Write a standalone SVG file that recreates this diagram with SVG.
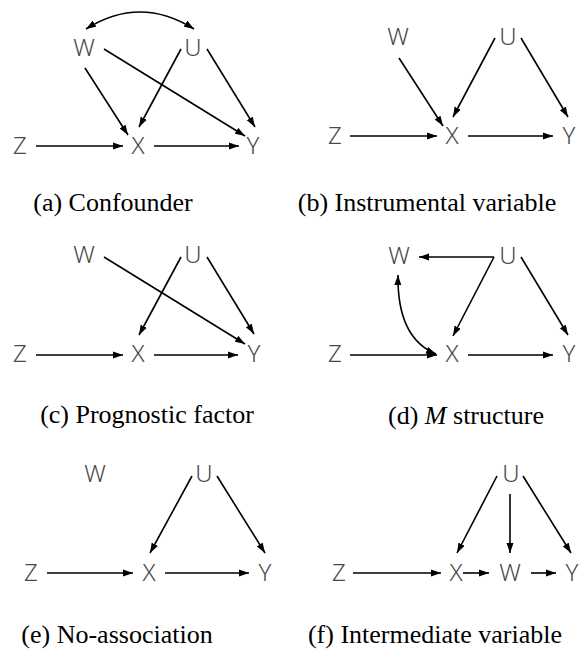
<svg xmlns="http://www.w3.org/2000/svg" width="579" height="652" viewBox="0 0 579 652">
<style>
.n text{font-family:"Noto Sans","Open Sans",sans-serif;font-size:24px;font-weight:300;fill:#4a4a4a;text-anchor:middle}
.cap{font-family:"Liberation Serif",serif;font-size:26px;fill:#000;text-anchor:middle}
.e line,.e path{stroke:#000;stroke-width:1.6;fill:none;marker-end:url(#ah)}
.e .bi{marker-start:url(#ah)}
</style>
<defs>
<marker id="ah" markerUnits="userSpaceOnUse" markerWidth="10" markerHeight="8" refX="10" refY="4" orient="auto-start-reverse">
<path d="M0,0.5 L10,4 L0,7.5 z" fill="#000"/>
</marker>
</defs>
<rect width="579" height="652" fill="#fff"/>

<!-- Panel a -->
<g id="a-W" class="n"><text x="84" y="56">W</text></g>
<g id="a-U" class="n"><text x="193" y="56">U</text></g>
<g id="a-Z" class="n"><text x="20" y="154">Z</text></g>
<g id="a-X" class="n"><text x="138" y="154">X</text></g>
<g id="a-Y" class="n"><text x="253" y="154">Y</text></g>
<g id="a-edges" class="e">
<path class="bi" d="M86,29 Q140,-5 194,29"/>
<line x1="85" y1="68" x2="128" y2="135"/>
<line x1="181" y1="49" x2="139" y2="127"/>
<line x1="104" y1="49" x2="245" y2="136"/>
<line x1="207" y1="49" x2="255" y2="127"/>
<line x1="36" y1="146" x2="123" y2="146"/>
<line x1="154" y1="146" x2="239" y2="146"/>
</g>
<text class="cap" x="113" y="211">(a) Confounder</text>

<!-- Panel b -->
<g id="b-W" class="n"><text x="398" y="45">W</text></g>
<g id="b-U" class="n"><text x="508" y="45">U</text></g>
<g id="b-Z" class="n"><text x="335" y="144">Z</text></g>
<g id="b-X" class="n"><text x="452" y="144">X</text></g>
<g id="b-Y" class="n"><text x="569" y="144">Y</text></g>
<g id="b-edges" class="e">
<line x1="399" y1="58" x2="443" y2="126"/>
<line x1="495" y1="38" x2="453" y2="117"/>
<line x1="521" y1="38" x2="568" y2="117"/>
<line x1="350" y1="136" x2="437" y2="136"/>
<line x1="468" y1="136" x2="553" y2="136"/>
</g>
<text class="cap" x="427" y="211">(b) Instrumental variable</text>

<!-- Panel c -->
<g id="c-W" class="n"><text x="84" y="263">W</text></g>
<g id="c-U" class="n"><text x="193" y="263">U</text></g>
<g id="c-Z" class="n"><text x="20" y="362">Z</text></g>
<g id="c-X" class="n"><text x="138" y="362">X</text></g>
<g id="c-Y" class="n"><text x="254" y="362">Y</text></g>
<g id="c-edges" class="e">
<line x1="104" y1="257" x2="245" y2="344"/>
<line x1="181" y1="257" x2="139" y2="335"/>
<line x1="207" y1="257" x2="254" y2="334"/>
<line x1="36" y1="355" x2="123" y2="355"/>
<line x1="154" y1="355" x2="238" y2="355"/>
</g>
<text class="cap" x="147" y="423">(c) Prognostic factor</text>

<!-- Panel d -->
<g id="d-W" class="n"><text x="399" y="264">W</text></g>
<g id="d-U" class="n"><text x="508" y="264">U</text></g>
<g id="d-Z" class="n"><text x="335" y="362">Z</text></g>
<g id="d-X" class="n"><text x="452" y="362">X</text></g>
<g id="d-Y" class="n"><text x="569" y="362">Y</text></g>
<g id="d-edges" class="e">
<line x1="494" y1="257" x2="419" y2="257"/>
<line x1="494" y1="257" x2="453" y2="336"/>
<line x1="521" y1="257" x2="568" y2="335"/>
<line x1="350" y1="355" x2="437" y2="355"/>
<line x1="468" y1="355" x2="553" y2="355"/>
<path class="bi" d="M398,275 Q397,338 436,354"/>
</g>
<text class="cap" x="466" y="424">(d) <tspan font-style="italic">M</tspan> structure</text>

<!-- Panel e -->
<g id="e-W" class="n"><text x="95" y="482">W</text></g>
<g id="e-U" class="n"><text x="204" y="482">U</text></g>
<g id="e-Z" class="n"><text x="31" y="581">Z</text></g>
<g id="e-X" class="n"><text x="149" y="581">X</text></g>
<g id="e-Y" class="n"><text x="265" y="581">Y</text></g>
<g id="e-edges" class="e">
<line x1="192" y1="476" x2="150" y2="553"/>
<line x1="217" y1="476" x2="265" y2="553"/>
<line x1="47" y1="573" x2="133" y2="573"/>
<line x1="165" y1="573" x2="249" y2="573"/>
</g>
<text class="cap" x="117" y="643">(e) No-association</text>

<!-- Panel f -->
<g id="f-U" class="n"><text x="511" y="482">U</text></g>
<g id="f-Z" class="n"><text x="339" y="581">Z</text></g>
<g id="f-X" class="n"><text x="456" y="581">X</text></g>
<g id="f-W" class="n"><text x="510" y="581">W</text></g>
<g id="f-Y" class="n"><text x="572" y="581">Y</text></g>
<g id="f-edges" class="e">
<line x1="497" y1="476" x2="457" y2="553"/>
<line x1="510" y1="494" x2="510" y2="553"/>
<line x1="523" y1="476" x2="571" y2="553"/>
<line x1="353" y1="573" x2="441" y2="573"/>
<line x1="463" y1="573" x2="489" y2="573"/>
<line x1="531" y1="573" x2="556" y2="573"/>
</g>
<text class="cap" x="435" y="643">(f) Intermediate variable</text>
</svg>
